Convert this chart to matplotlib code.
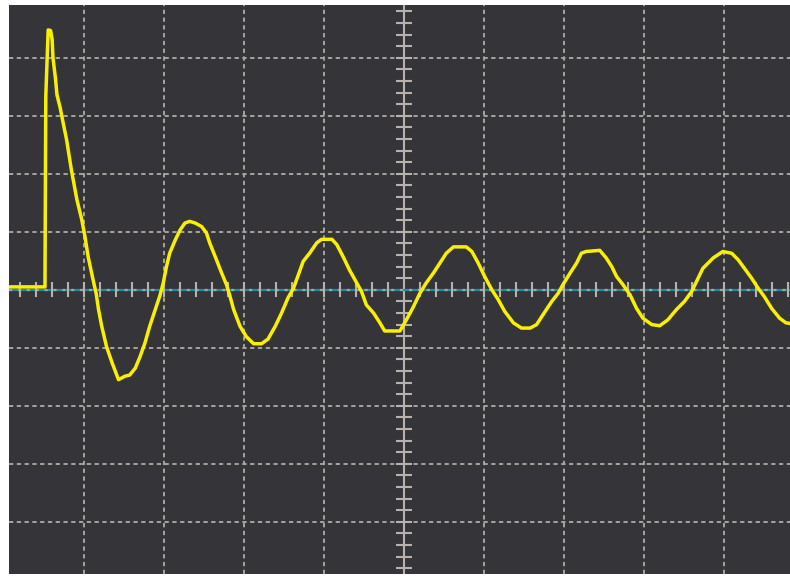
import numpy as np
import matplotlib
matplotlib.use("Agg")
import matplotlib.pyplot as plt

# Trace, in divisions (x: time div, y: volts div)
t_div = [-4.94, -4.49, -4.48, -4.45, -4.42, -4.40, -4.39, -4.36, -4.34, -4.30,
         -4.26, -4.22, -4.16, -4.09, -4.03, -3.99, -3.95, -3.88, -3.85, -3.82,
         -3.78, -3.72, -3.65, -3.57, -3.49, -3.43, -3.36, -3.30, -3.24, -3.18,
         -3.11, -3.05, -3.01, -2.97, -2.93, -2.86, -2.80, -2.74, -2.68, -2.61,
         -2.53, -2.47, -2.43, -2.36, -2.28, -2.22, -2.18, -2.13, -2.05, -1.97,
         -1.88, -1.78, -1.70, -1.61, -1.53, -1.45, -1.38, -1.32, -1.26, -1.18,
         -1.09, -1.03, -0.90, -0.84, -0.76, -0.68, -0.59, -0.53, -0.47, -0.38,
         -0.30, -0.24, -0.05, 0.03, 0.12, 0.20, 0.28, 0.37, 0.45, 0.53,
         0.62, 0.78, 0.85, 0.93, 1.01, 1.10, 1.18, 1.26, 1.37, 1.47,
         1.58, 1.66, 1.74, 1.85, 1.93, 1.99, 2.08, 2.16, 2.22, 2.28,
         2.45, 2.53, 2.60, 2.66, 2.74, 2.83, 2.91, 2.99, 3.10, 3.20,
         3.30, 3.41, 3.51, 3.60, 3.66, 3.74, 3.87, 3.99, 4.10, 4.18,
         4.26, 4.35, 4.43, 4.51, 4.60, 4.70, 4.78, 4.83]
v_div = [0.05, 0.05, 3.33, 4.48, 4.47, 4.31, 4.00, 3.66, 3.36, 3.14,
         2.86, 2.59, 2.07, 1.55, 1.21, 0.92, 0.57, 0.12, -0.06, -0.34,
         -0.63, -0.98, -1.26, -1.55, -1.49, -1.47, -1.35, -1.15, -0.92, -0.63,
         -0.34, -0.09, 0.12, 0.40, 0.63, 0.86, 1.03, 1.15, 1.18, 1.15,
         1.09, 0.98, 0.81, 0.57, 0.29, 0.09, -0.09, -0.34, -0.63, -0.81,
         -0.93, -0.93, -0.85, -0.63, -0.40, -0.14, 0.03, 0.26, 0.49, 0.63,
         0.81, 0.87, 0.87, 0.78, 0.57, 0.34, 0.12, -0.03, -0.26, -0.40,
         -0.57, -0.71, -0.71, -0.52, -0.29, -0.06, 0.12, 0.29, 0.46, 0.63,
         0.74, 0.74, 0.66, 0.46, 0.23, 0.00, -0.17, -0.37, -0.57, -0.66,
         -0.66, -0.60, -0.43, -0.20, -0.06, 0.09, 0.29, 0.46, 0.63, 0.66,
         0.68, 0.55, 0.40, 0.23, 0.09, -0.09, -0.32, -0.49, -0.60, -0.62,
         -0.52, -0.34, -0.20, -0.03, 0.14, 0.37, 0.55, 0.66, 0.63, 0.52,
         0.37, 0.20, 0.03, -0.12, -0.32, -0.49, -0.57, -0.58]

x_lim = (-4.94, 4.83)
y_lim = (-4.90, 4.91)

screen_bg = "#353438"
grid_col = "#a9a39f"
axis_col = "#b8b2ad"
trace_col = "#f9f000"
ground_col = "#1b8ea6"

fig = plt.figure(figsize=(7.9, 5.76), dpi=100, facecolor="white")
ax = fig.add_axes([9 / 790, 2 / 576, 781 / 790, 569 / 576])
ax.set_facecolor(screen_bg)
ax.set_xlim(*x_lim)
ax.set_ylim(*y_lim)
ax.set_xticks([])
ax.set_yticks([])
for s in ax.spines.values():
    s.set_visible(False)

# dotted graticule
for gx in range(-4, 5):
    if gx != 0:
        ax.axvline(gx, color=grid_col, lw=1.4, ls=(0, (2.2, 1.8)), zorder=1)
for gy in range(-4, 5):
    if gy != 0:
        ax.axhline(gy, color=grid_col, lw=1.4, ls=(0, (2.2, 1.8)), zorder=1)

# centre axes with minor ticks
ax.axvline(0, color=axis_col, lw=1.5, zorder=2)
ax.axhline(0, color=ground_col, lw=1.6, zorder=2)
ax.axhline(0, color=grid_col, lw=1.6, ls=(0, (1.4, 2.6)), zorder=2)

ys = np.arange(-24, 25) * 0.2
ys = ys[np.abs(ys) > 1e-9]
ax.hlines(ys, -0.1, 0.1, color=axis_col, lw=1.5, zorder=2)
xs = np.arange(-24, 25) * 0.2
xs = xs[np.abs(xs) > 1e-9]
ax.vlines(xs, -0.13, 0.13, color=axis_col, lw=1.5, zorder=2)

# the trace
ax.plot(t_div, v_div, color=trace_col, lw=2.5, solid_joinstyle="round", zorder=5)

fig.savefig("out.png", dpi=100, facecolor=fig.get_facecolor())
